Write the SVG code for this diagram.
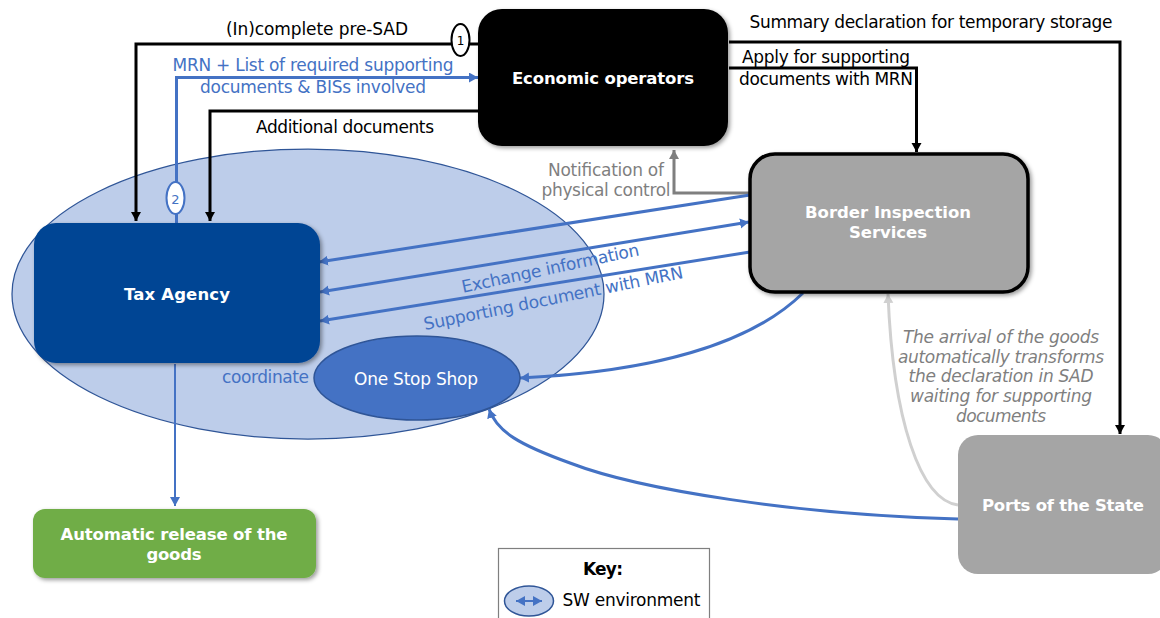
<svg xmlns="http://www.w3.org/2000/svg" width="1160" height="618" viewBox="0 0 1160 618">
<style>
text{font-family:"DejaVu Sans","Liberation Sans",sans-serif;font-size:17px;text-anchor:middle}
.b{font-weight:bold;fill:#fff;font-size:16.500px}
.k{fill:#000}.u{fill:#4472c4}.g{fill:#7f7f7f}
.i{font-style:italic;fill:#7f7f7f}
.c{fill:none;stroke-linejoin:miter}
.ck{stroke:#000;stroke-width:3}
.cu{stroke:#4472c4;stroke-width:3}
</style>
<defs>
<marker id="ak" markerUnits="userSpaceOnUse" markerWidth="10" markerHeight="12" refX="9" refY="5" orient="auto-start-reverse"><path d="M0 0L9 5L0 10z" fill="#000"/></marker>
<marker id="au" markerUnits="userSpaceOnUse" markerWidth="10" markerHeight="12" refX="9" refY="5" orient="auto-start-reverse"><path d="M0 0L9 5L0 10z" fill="#4472c4"/></marker>
<marker id="ag" markerUnits="userSpaceOnUse" markerWidth="10" markerHeight="12" refX="9" refY="5" orient="auto-start-reverse"><path d="M0 0L9 5L0 10z" fill="#7f7f7f"/></marker>
<marker id="al" markerUnits="userSpaceOnUse" markerWidth="10" markerHeight="12" refX="9" refY="5" orient="auto-start-reverse"><path d="M0 0L9 5L0 10z" fill="#d0d0d0"/></marker>
<filter id="sh" x="-5%" y="-5%" width="112%" height="115%"><feDropShadow dx="2" dy="2" stdDeviation="2" flood-color="#000" flood-opacity=".4"/></filter>
</defs>
<g id="sw-environment"><ellipse cx="308" cy="294" rx="296" ry="145" fill="#bdcdea" stroke="#2f5597" stroke-width="1.250"/></g>
<g id="connectors">
<path class="c ck" d="M478 44H136V221" marker-end="url(#ak)"/>
<path class="c cu" d="M176.500 223V77.500H478" marker-end="url(#au)"/>
<path class="c ck" d="M478 111H210V221" marker-end="url(#ak)"/>
<path class="c ck" d="M729 42H1120V434" marker-end="url(#ak)"/>
<path class="c ck" d="M729 68H916.500V152" marker-end="url(#ak)"/>
<path class="c" stroke="#7f7f7f" stroke-width="3" d="M750 193H674V150" marker-end="url(#ag)"/>
<path class="c cu" d="M750 195L319 262" marker-end="url(#au)"/>
<path class="c cu" d="M320 292L749 222" marker-start="url(#au)" marker-end="url(#au)"/>
<path class="c cu" d="M750 252L320 321" marker-end="url(#au)"/>
<path class="c cu" d="M803 293C750 345 650 372 520 378" marker-end="url(#au)"/>
<path class="c cu" d="M958 519C800 515 640 490 570 463C520 445 497 432 489 409" marker-end="url(#au)"/>
<path class="c" stroke="#d0d0d0" stroke-width="3" d="M958 505C920 500 893 420 888 294" marker-end="url(#al)"/>
<path class="c" stroke="#4472c4" stroke-width="2" d="M175 364V506" marker-end="url(#au)"/>
</g>
<g id="economic-operators"><rect x="478" y="9" width="250" height="137" rx="24" fill="#000" filter="url(#sh)"/><text class="b" x="603" y="84" textLength="182">Economic operators</text></g>
<g id="border-inspection"><rect x="750" y="154" width="278" height="138" rx="25" fill="#a5a5a5" stroke="#000" stroke-width="3.500" filter="url(#sh)"/><text class="b" x="888" y="218" textLength="166">Border Inspection</text><text class="b" x="888" y="238" textLength="78">Services</text></g>
<g id="tax-agency"><rect x="34" y="223" width="286" height="140" rx="22" fill="#004494" filter="url(#sh)"/><text class="b" x="177" y="300" textLength="106">Tax Agency</text></g>
<g id="one-stop-shop"><ellipse cx="417" cy="378" rx="103" ry="42" fill="#4472c4" stroke="#2f5597" stroke-width="1.500"/><text x="416" y="385" fill="#fff" textLength="124">One Stop Shop</text></g>
<g id="automatic-release"><rect x="33" y="509" width="283" height="69" rx="12" fill="#70ad47" filter="url(#sh)"/><text class="b" x="174" y="540" textLength="227">Automatic release of the</text><text class="b" x="174" y="560" textLength="55">goods</text></g>
<g id="ports"><rect x="958" y="435" width="210" height="139" rx="20" fill="#a5a5a5"/><text class="b" x="1063" y="511" textLength="162">Ports of the State</text></g>
<g id="marker-1"><ellipse cx="460.500" cy="40" rx="9" ry="16" fill="#fff" stroke="#000" stroke-width="2"/><text x="460.500" y="45" style="font-size:12px">1</text></g>
<g id="marker-2"><ellipse cx="175.500" cy="198" rx="9" ry="16" fill="#fff" stroke="#4472c4" stroke-width="2"/><text class="u" x="175.500" y="204" style="font-size:13px">2</text></g>
<g id="labels">
<text class="k" x="317" y="35" textLength="182">(In)complete pre-SAD</text>
<text class="u" x="313" y="71" textLength="281">MRN + List of required supporting</text>
<text class="u" x="313" y="93" textLength="226">documents &amp; BISs involved</text>
<text class="k" x="345" y="133" textLength="178">Additional documents</text>
<text class="k" x="931" y="28" textLength="363">Summary declaration for temporary storage</text>
<text class="k" x="826" y="63" textLength="168">Apply for supporting</text>
<text class="k" x="826" y="85" textLength="174">documents with MRN</text>
<text class="g" x="606" y="176" textLength="116">Notification of</text>
<text class="g" x="606" y="196" textLength="129">physical control</text>
<text class="u" transform="translate(551.500 274) rotate(-12)" textLength="181">Exchange information</text>
<text class="u" transform="translate(554.500 304) rotate(-11.400)" textLength="264">Supporting document with MRN</text>
<text class="u" x="265.500" y="383" textLength="87">coordinate</text>
<text class="i" x="1001" y="343" textLength="196">The arrival of the goods</text>
<text class="i" x="1001" y="363" textLength="206">automatically transforms</text>
<text class="i" x="1001" y="382" textLength="185">the declaration in SAD</text>
<text class="i" x="1001" y="402" textLength="182">waiting for supporting</text>
<text class="i" x="1001" y="422" textLength="90">documents</text>
</g>
<g id="key"><rect x="498.500" y="548.500" width="211" height="80" fill="#fff" stroke="#7f7f7f" stroke-width="1.200"/><text x="603" y="575" font-weight="bold" textLength="40">Key:</text><ellipse cx="529" cy="601" rx="24.500" ry="15" fill="#bdcdea" stroke="#2f5597" stroke-width="1.500"/><path class="c" stroke="#4472c4" stroke-width="2" d="M516 601H542" marker-start="url(#au)" marker-end="url(#au)"/><text class="k" x="631.500" y="606" textLength="138">SW environment</text></g>
</svg>
